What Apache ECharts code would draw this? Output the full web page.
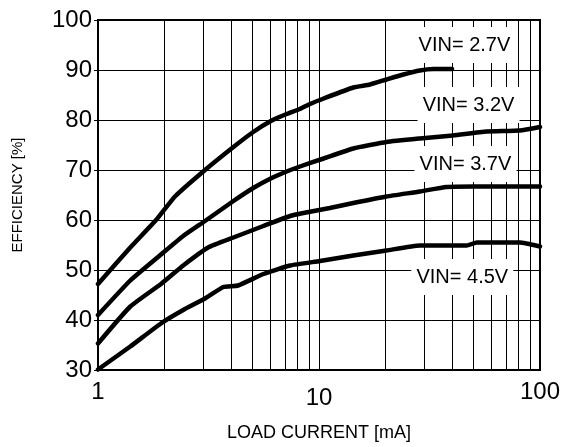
<!DOCTYPE html>
<html>
<head>
<meta charset="utf-8">
<script src="https://cdn.jsdelivr.net/npm/echarts@6/dist/echarts.min.js"></script>
<style>html,body{margin:0;padding:0;background:#fff}#c{width:570px;height:447px}</style>
</head>
<body>
<div id="c"></div>
<script>
// ---- data ----
var x27 = [1, 1.4, 1.84, 2.23, 3.05, 4.1, 5.04, 6.11, 7.14, 8.2, 9.1, 10.5, 14.3, 17, 20.2, 24.1, 28.6, 32.9, 40];
var y27 = [47.2, 54.5, 60.1, 64.7, 70.0, 74.6, 77.6, 79.9, 81.2, 82.2, 83.2, 84.3, 86.5, 87.1, 88.1, 89.1, 89.9, 90.2, 90.2];

var x32 = [1, 1.4, 1.94, 2.43, 3.05, 4.1, 5.04, 6.11, 7.14, 8.2, 10.5, 14.3, 20.2, 28.6, 40.4, 57.3, 81, 100];
var y32 = [41.0, 47.9, 53.2, 56.8, 59.8, 63.8, 66.4, 68.4, 69.7, 70.7, 72.3, 74.3, 75.6, 76.3, 76.9, 77.7, 77.9, 78.6];

var x37 = [1, 1.4, 1.94, 2.43, 3.15, 4.1, 5.6, 7.4, 8.5, 11.2, 14.3, 20.2, 28.6, 37.7, 50, 100];
var y37 = [35.3, 42.7, 47.3, 50.9, 54.5, 56.5, 58.8, 60.8, 61.4, 62.4, 63.4, 64.7, 65.7, 66.6, 66.7, 66.7];

var x45 = [1, 1.4, 1.94, 2.43, 3.05, 3.69, 4.3, 5.6, 7.4, 10.1, 14.3, 20.2, 28.6, 46.6, 51.8, 81, 100];
var y45 = [30.1, 34.7, 39.4, 42.0, 44.3, 46.6, 46.9, 49.2, 50.9, 51.8, 52.9, 53.9, 54.9, 54.9, 55.5, 55.5, 54.7];

var minorX = [2, 3, 4, 5, 6, 7, 8, 9, 20, 30, 40, 50, 60, 70, 80, 90];
var labelText = ['VIN= 2.7V', 'VIN= 3.2V', 'VIN= 3.7V', 'VIN= 4.5V'];
var labelX = [45.5, 47.5, 46.0, 44.5];
var labelY = [95.0, 83.0, 71.2, 48.6];

var xName = 'LOAD CURRENT [mA]';
var yName = 'EFFICIENCY [%]';

function zip(xs, ys) { return xs.map(function (v, i) { return [v, ys[i]]; }); }

var FONT = "'Liberation Sans', Arial, Helvetica, sans-serif";
var chart = echarts.init(document.getElementById('c'), null, {renderer: 'canvas'});

var curveStyle = {type: 'line', showSymbol: false, symbol: 'none', z: 5, smooth: 0.15,
  lineStyle: {color: '#000', width: 4.5, cap: 'round', join: 'round'}, silent: true};

function curve(xs, ys) {
  return Object.assign({}, curveStyle, {data: zip(xs, ys)});
}

chart.setOption({
  animation: false,
  backgroundColor: '#fff',
  grid: {left: 98, right: 30, top: 20, bottom: 73.5, show: true, borderColor: '#000', borderWidth: 2, backgroundColor: 'transparent'},
  xAxis: {
    type: 'log', logBase: 10, min: 1, max: 100,
    name: xName, nameLocation: 'middle', nameGap: 54,
    nameTextStyle: {fontFamily: FONT, fontSize: 18, color: '#000'},
    axisLine: {show: true, lineStyle: {color: '#000', width: 2}},
    axisTick: {show: false},
    axisLabel: {fontFamily: FONT, fontSize: 24, color: '#000', margin: 10,
      formatter: function (v) { return v === 10 ? '{lo|10}' : String(v); },
      rich: {lo: {fontFamily: FONT, fontSize: 24, color: '#000', lineHeight: 36}}},
    splitLine: {show: true, lineStyle: {color: '#000', width: 1}},
    minorTick: {show: false}, minorSplitLine: {show: false}
  },
  yAxis: {
    type: 'value', min: 30, max: 100, interval: 10,
    name: yName, nameLocation: 'middle', nameGap: 73,
    nameTextStyle: {fontFamily: FONT, fontSize: 15, color: '#000'},
    axisLine: {show: true, lineStyle: {color: '#000', width: 2}},
    axisTick: {show: true, length: 4, lineStyle: {color: '#000', width: 1}},
    axisLabel: {fontFamily: FONT, fontSize: 24, color: '#000', margin: 6},
    splitLine: {show: true, lineStyle: {color: '#000', width: 1}}
  },
  series: [
    {type: 'line', data: [], z: 1, silent: true,
      markLine: {silent: true, z: 1, symbol: 'none', animation: false, label: {show: false},
        lineStyle: {color: '#000', width: 1, type: 'solid'},
        emphasis: {disabled: true},
        data: minorX.map(function (v) { return {xAxis: v}; })}},
    {type: 'scatter', z: 3, silent: true, symbol: 'rect', symbolSize: [102, 36],
      itemStyle: {color: '#fff', opacity: 1},
      emphasis: {disabled: true},
      data: labelText.map(function (t, i) { return {value: [labelX[i], labelY[i]], name: t}; }),
      label: {show: true, position: 'inside', formatter: function (p) { return p.name; },
        fontFamily: FONT, fontSize: 20, color: '#000'}},
    curve(x27, y27),
    curve(x32, y32),
    curve(x37, y37),
    curve(x45, y45)
  ]
});
</script>
</body>
</html>
